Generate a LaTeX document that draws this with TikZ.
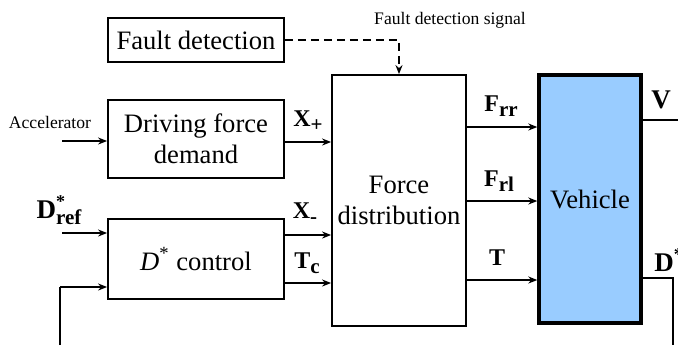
\documentclass[tikz,border=0pt]{standalone}
\usepackage{fontspec}
\setmainfont{Liberation Serif}
\newfontfamily\tnr{Liberation Serif}
\usetikzlibrary{arrows.meta}
\definecolor{vehblue}{HTML}{99CCFF}
\newcommand\mysb[1]{\raisebox{-0.45ex}{\fontsize{10.5}{11}\selectfont\tnr\bfseries #1}}
\newcommand\mysp[1]{\raisebox{0.9ex}{\fontsize{9}{10}\selectfont\tnr\bfseries #1}}
\begin{document}
\begin{tikzpicture}[x=0.5pt,y=-0.5pt,
  blk/.style={draw,line width=0.9pt,inner sep=0pt,align=center,font=\tnr\fontsize{13.3}{15.5}\selectfont},
  sig/.style={line width=0.75pt,-{Stealth[length=4.5pt,width=3.5pt]}},
  wire/.style={line width=0.75pt},
  lbl/.style={inner sep=0pt,font=\tnr\fontsize{12}{13}\selectfont\bfseries},
  lblbig/.style={inner sep=0pt,font=\tnr\fontsize{13.5}{14}\selectfont\bfseries},
  small/.style={inner sep=0pt,font=\tnr\fontsize{8.8}{10}\selectfont}]
\useasboundingbox (0,0) rectangle (678,345);
% blocks
\node[blk,minimum width=88pt,minimum height=22pt] (fault) at (196,40) {Fault detection};
\node[blk,minimum width=88pt,minimum height=39pt] (drv) at (196,139) {Driving force\\demand};
\node[blk,minimum width=88pt,minimum height=40pt] (dc) at (196,259) {\textit{D}\textsuperscript{*} control};
\node[blk,minimum width=67pt,minimum height=125.5pt] (fd) at (399,200.5) {Force\\distribution};
\node[blk,line width=1.7pt,fill=vehblue,minimum width=51pt,minimum height=124pt] (veh) at (590,199) {Vehicle};
% free ends
\coordinate (accin) at (62,141);
\coordinate (drefin) at (62,233);
\coordinate (fbb) at (60,345);
\coordinate (fbc) at (60,287);
\coordinate (vout) at (678,120);
\coordinate (dout) at (673,278);
\coordinate (doutb) at (673,345);
% dashed fault signal
\draw[sig,dashed,dash pattern=on 4pt off 2.5pt] (fault.east) -| (fd.north);
\node[small] (fdsig) at (450,20) {Fault detection signal};
% inputs
\node[small] (acc) at (50,122) {Accelerator};
\draw[sig] (accin) -- (accin -| drv.west);
\node[lblbig] (dref) at (59,210) {D\rlap{\mysp{*}}\mysb{ref}};
\draw[sig] (drefin) -- (drefin -| dc.west);
\draw[wire] (fbb) -- (fbc);
\draw[sig] (fbc) -- (fbc -| dc.west);
% to force distribution
\draw[sig] (drv.east |- 0,142) -- (fd.west |- 0,142);
\node[lbl] (xp) at (308,121) {X\mysb{+}};
\draw[sig] (dc.east |- 0,235) -- (fd.west |- 0,235);
\node[lbl] (xm) at (305,213) {X\mysb{-}};
\draw[sig] (dc.east |- 0,283) -- (fd.west |- 0,283);
\node[lbl] (tc) at (307,263) {T\mysb{c}};
% to vehicle
\draw[sig] (fd.east |- 0,127) -- (veh.west |- 0,127);
\node[lbl] (frr) at (501,106) {F\mysb{rr}};
\draw[sig] (fd.east |- 0,201) -- (veh.west |- 0,201);
\node[lbl] (frl) at (499,181) {F\mysb{rl}};
\draw[sig] (fd.east |- 0,280) -- (veh.west |- 0,280);
\node[lbl] (t) at (497,258) {T};
% outputs
\draw[wire] (veh.east |- vout) -- (vout);
\node[lblbig] (v) at (661,100) {V};
\draw[wire] (veh.east |- dout) -- (dout) -- (doutb);
\node[lblbig,anchor=west] (dstar) at (654,260) {D\mysp{*}};
\end{tikzpicture}
\end{document}
